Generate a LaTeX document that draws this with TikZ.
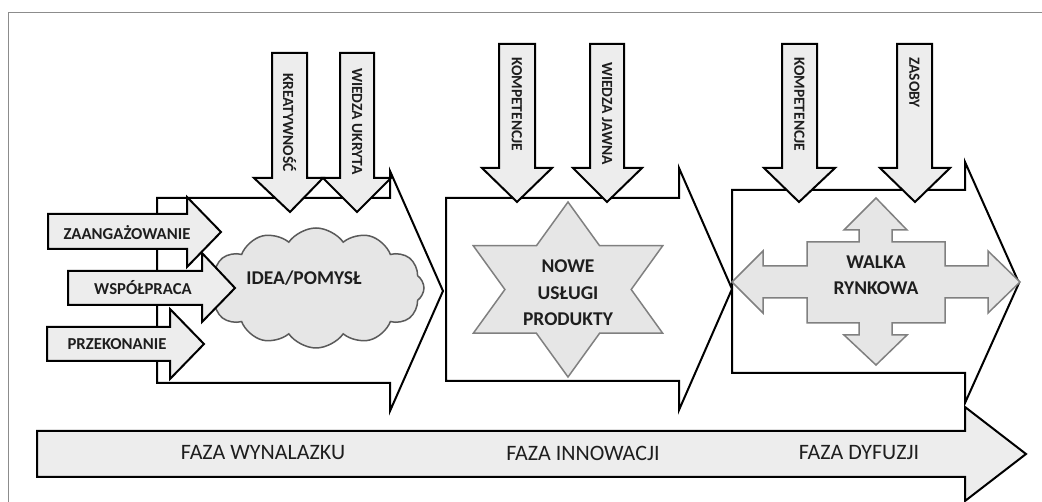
\documentclass[tikz,border=0pt]{standalone}
\usepackage{fontspec}
\setmainfont{Carlito}
\usetikzlibrary{shapes.symbols}
\definecolor{agray}{HTML}{EDEDED}
\definecolor{cgray}{HTML}{E6E6E6}
\definecolor{edgegray}{HTML}{808080}
\definecolor{cloudedge}{HTML}{5A5A5A}
\definecolor{framegray}{HTML}{8C8C8C}
\definecolor{txt}{HTML}{1E1E1E}
\begin{document}
\begin{tikzpicture}[x=1pt,y=-1pt,
 bigarrow/.style={draw=black,line width=2pt,fill=white,line join=miter},
 inarrow/.style={draw=black,line width=2pt,fill=agray,line join=miter},
 softshape/.style={draw=edgegray,line width=1.5pt,fill=cgray,line join=miter},
 lbl/.style={font=\fontsize{16.7}{20}\selectfont\bfseries, text=txt, inner sep=0pt, align=center},
 biglbl/.style={lbl, font=\fontsize{19.5}{26.5}\selectfont\bfseries},
 vlbl/.style={lbl, font=\fontsize{15.5}{18}\selectfont\bfseries, rotate=-90, anchor=west},
 phase/.style={font=\fontsize{22}{26}\selectfont, text=txt, inner sep=0pt},
 ]
\useasboundingbox (0,0) rectangle (1042,502);
% frame
\draw[framegray, line width=1pt] (8,502) -- (8,13) -- (1042,13);
% bottom phase arrow
\draw[inarrow] (37,431) -- (965,431) -- (965,407) -- (1026,454) -- (965,501) -- (965,477) -- (37,477) -- cycle;
\node[phase] (p1) at (263,453) {FAZA WYNALAZKU};
\node[phase] (p2) at (583,453) {FAZA INNOWACJI};
\node[phase] (p3) at (859,453) {FAZA DYFUZJI};
% big phase arrows
\draw[bigarrow] (157,198) -- (390,198) -- (390,171) -- (443,291) -- (390,411) -- (390,383) -- (157,383) -- cycle;
\draw[bigarrow] (446,198) -- (679,198) -- (679,168) -- (732,289) -- (679,410) -- (679,381) -- (446,381) -- cycle;
\draw[bigarrow] (732,190) -- (965,190) -- (965,162) -- (1019,283) -- (965,403) -- (965,373) -- (732,373) -- cycle;
% cloud
\node[cloud, cloud puffs=12, cloud puff arc=110, aspect=1.85, minimum width=216pt, minimum height=120pt,
      draw=cloudedge, fill=cgray, line width=1.5pt, inner sep=0pt] (cloud) at (316,288) {};
\node[biglbl] (idea) at (304,278) {IDEA/POMYSŁ};
% horizontal input arrows
\draw[inarrow] (48,214) -- (187,214) -- (187,197) -- (221,232) -- (187,267) -- (187,249) -- (48,249) -- cycle;
\draw[inarrow] (68,271) -- (202,271) -- (202,253) -- (235,288) -- (202,322) -- (202,305) -- (68,305) -- cycle;
\draw[inarrow] (47,327) -- (170,327) -- (170,309) -- (204,344) -- (170,379) -- (170,361) -- (47,361) -- cycle;
\node[lbl] (h1) at (127,233) {ZAANGAŻOWANIE};
\node[lbl] (h2) at (143,288) {WSPÓŁPRACA};
\node[lbl] (h3) at (117,344) {PRZEKONANIE};
% vertical input arrows
\draw[inarrow] (272,53) -- (307,53) -- (307,178) -- (323,178) -- (290,212) -- (254,178) -- (272,178) -- cycle;
\draw[inarrow] (340,53) -- (374,53) -- (374,178) -- (391,178) -- (357,212) -- (323,178) -- (340,178) -- cycle;
\draw[inarrow] (499,44) -- (535,44) -- (535,168) -- (552,168) -- (517,202) -- (482,168) -- (499,168) -- cycle;
\draw[inarrow] (590,44) -- (624,44) -- (624,168) -- (642,168) -- (607,202) -- (573,168) -- (590,168) -- cycle;
\draw[inarrow] (782,44) -- (817,44) -- (817,168) -- (835,168) -- (799,202) -- (764,168) -- (782,168) -- cycle;
\draw[inarrow] (897,44) -- (932,44) -- (932,168) -- (950,168) -- (915,202) -- (880,168) -- (897,168) -- cycle;
\node[vlbl] (v1) at (289.5,73) {KREATYWNOŚĆ};
\node[vlbl] (v2) at (357,68) {WIEDZA UKRYTA};
\node[vlbl] (v3) at (517,57) {KOMPETENCJE};
\node[vlbl] (v4) at (607,62) {WIEDZA JAWNA};
\node[vlbl] (v5) at (799.5,57) {KOMPETENCJE};
\node[vlbl] (v6) at (914.5,57) {ZASOBY};
% star
\filldraw[softshape] (568,202) -- (599.6,245.75) -- (662.7,245.75) -- (631.2,289.5) -- (662.7,333.25)
  -- (599.6,333.25) -- (568,377) -- (536.4,333.25) -- (473.3,333.25) -- (504.9,289.5)
  -- (473.3,245.75) -- (536.4,245.75) -- cycle;
\node[biglbl] (nowe) at (568,293) {NOWE\\USŁUGI\\PRODUKTY};
% four-way arrow
\filldraw[softshape] (876,198) -- (907,230) -- (892,230) -- (892,242) -- (945,242) -- (945,266)
  -- (988,266) -- (988,251) -- (1020,282) -- (988,313) -- (988,298) -- (945,298) -- (945,323)
  -- (892,323) -- (892,335) -- (907,335) -- (876,365) -- (844,335) -- (859,335) -- (859,323)
  -- (807,323) -- (807,298) -- (763,298) -- (763,313) -- (732,282) -- (763,251) -- (763,266)
  -- (807,266) -- (807,242) -- (859,242) -- (859,230) -- (844,230) -- cycle;
\node[biglbl, font=\fontsize{19.5}{26}\selectfont\bfseries] (walka) at (876,275) {WALKA\\RYNKOWA};
\end{tikzpicture}
\end{document}
